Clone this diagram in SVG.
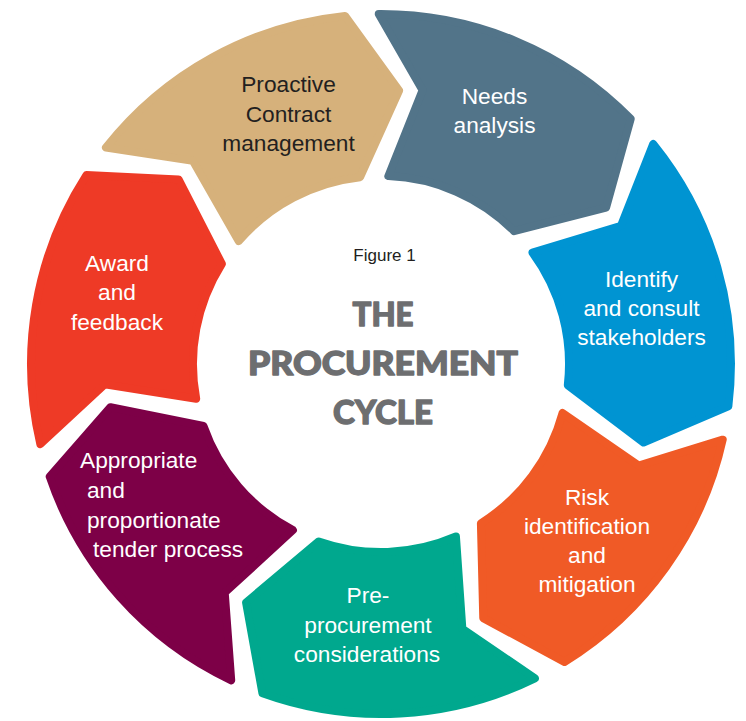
<svg xmlns="http://www.w3.org/2000/svg" xmlns:xlink="http://www.w3.org/1999/xlink" width="746" height="721" viewBox="0 0 746 721">
<style>
.seg{stroke-width:8;stroke-linejoin:round}
.lbl{font-family:"Liberation Sans",Arial,sans-serif;font-size:22.7px;fill:#ffffff;text-anchor:middle}
.start{text-anchor:start}
.dark{fill:#231F20}
.fig{font-family:"Liberation Sans",Arial,sans-serif;font-size:17px;fill:#231F20;text-anchor:middle}
.title{font-family:Lato,"Liberation Sans",sans-serif;font-weight:900;font-size:32px;fill:#6D6E70;stroke:#6D6E70;stroke-width:1.3;stroke-linejoin:round;text-anchor:middle}
</style>
<defs>
<path id="seg" d="M 323.1 -134.5 L 269.2 -65.1 L 176.7 -64.3 A 188 188 0 0 1 173.3 72.9 L 229.8 149.2 L 321.4 138.4 A 350 350 0 0 0 323.1 -134.5 Z"/>
</defs>
<rect width="746" height="721" fill="#ffffff"/>
<g id="connectors"/>
<g id="node-proactive">
<use xlink:href="#seg" class="seg" fill="#D6B17B" stroke="#D6B17B" transform="translate(381,364) rotate(-119.2)"/>
<text class="lbl dark" x="288.5" y="92">Proactive</text>
<text class="lbl dark" x="288.5" y="121.5">Contract</text>
<text class="lbl dark" x="288.5" y="151">management</text>
</g>
<g id="node-needs">
<use xlink:href="#seg" class="seg" fill="#527489" stroke="#527489" transform="translate(381,364) rotate(-67.77)"/>
<text class="lbl" x="494.5" y="104">Needs</text>
<text class="lbl" x="494.5" y="133">analysis</text>
</g>
<g id="node-identify">
<use xlink:href="#seg" class="seg" fill="#0094D2" stroke="#0094D2" transform="translate(381,364) rotate(-16.34)"/>
<text class="lbl" x="641.5" y="287">Identify</text>
<text class="lbl" x="641.5" y="316">and consult</text>
<text class="lbl" x="641.5" y="345">stakeholders</text>
</g>
<g id="node-risk">
<use xlink:href="#seg" class="seg" fill="#F05A26" stroke="#F05A26" transform="translate(381,364) rotate(35.09)"/>
<text class="lbl" x="587" y="505">Risk</text>
<text class="lbl" x="587" y="534">identification</text>
<text class="lbl" x="587" y="563">and</text>
<text class="lbl" x="587" y="592">mitigation</text>
</g>
<g id="node-preprocurement">
<use xlink:href="#seg" class="seg" fill="#00A88E" stroke="#00A88E" transform="translate(381,364) rotate(86.51)"/>
<text class="lbl" x="368" y="603">Pre-</text>
<text class="lbl" x="368" y="632.5">procurement</text>
<text class="lbl" x="367" y="662">considerations</text>
</g>
<g id="node-tender">
<use xlink:href="#seg" class="seg" fill="#7D0047" stroke="#7D0047" transform="translate(381,364) rotate(137.94)"/>
<text class="lbl start" x="80" y="468">Appropriate</text>
<text class="lbl start" x="87" y="498">and</text>
<text class="lbl start" x="87" y="528">proportionate</text>
<text class="lbl start" x="93" y="557">tender process</text>
</g>
<g id="node-award">
<use xlink:href="#seg" class="seg" fill="#EE3A26" stroke="#EE3A26" transform="translate(381,364) rotate(189.37)"/>
<text class="lbl" x="117" y="271">Award</text>
<text class="lbl" x="117" y="300">and</text>
<text class="lbl" x="117" y="330">feedback</text>
</g>
<g id="center-title">
<text class="fig" x="384.5" y="261">Figure 1</text>
<text class="title" x="383" y="326" textLength="61" lengthAdjust="spacingAndGlyphs">THE</text>
<text class="title" x="383" y="375" textLength="270" lengthAdjust="spacingAndGlyphs">PROCUREMENT</text>
<text class="title" x="383" y="424" textLength="100" lengthAdjust="spacingAndGlyphs">CYCLE</text>
</g>
</svg>
